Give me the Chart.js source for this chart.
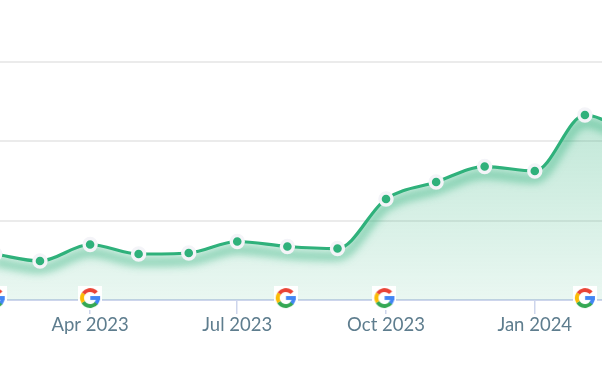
<!DOCTYPE html>
<html>
<head>
<meta charset="utf-8">
<style>
html, body { margin: 0; padding: 0; background: #fff; }
canvas { display: block; }
</style>
<script src="https://cdn.jsdelivr.net/npm/chart.js@4/dist/chart.umd.min.js"></script>
</head>
<body>
<canvas id="trafficChart" width="602" height="380"></canvas>
<script>
// days counted from 1 Feb 2023, one entry per month start
const monthDays = [0, 28, 59, 89, 120, 150, 181, 212, 242, 273, 303, 334, 365, 394];
const traffic = [580, 492, 700, 580, 593, 738, 675, 649, 1274, 1488, 1683, 1627, 2333, 2081];
const gridValues = [0, 1000, 2000, 3000];
const tickDays = [59, 150, 242, 334];
const tickLabels = ['Apr 2023', 'Jul 2023', 'Oct 2023', 'Jan 2024'];
const googleUpdateDays = [0, 59, 180, 241, 365];

const GREEN = '#2fb17b';
const points = traffic.map((v, i) => ({ x: monthDays[i], y: v }));
// badges sit just above the axis line
const updatePoints = googleUpdateDays.map(d => ({ x: d, y: 25 }));

// google "G" badge, used as the pointStyle of the update markers
function googleIcon() {
    const c = document.createElement('canvas');
    c.width = 24; c.height = 24;
    const g = c.getContext('2d');
    g.fillStyle = '#fff';
    g.fillRect(0, 0, 24, 24);
    g.lineWidth = 3.9;
    const arc = (color, from, to) => {
        g.strokeStyle = color;
        g.beginPath();
        g.arc(12, 12, 8, from * Math.PI / 180, to * Math.PI / 180);
        g.stroke();
    };
    arc('#34a853', 35, 150);
    arc('#fbbc05', 150, 215);
    arc('#ea4335', 215, 320);
    arc('#4285f4', 0, 40);
    g.fillStyle = '#4285f4';
    g.fillRect(12.2, 10, 9.8, 3.9);
    return c;
}

// soft band under the line, only inside the area.
// the stroke itself is moved off the canvas so only its shadow shows
const glowPlugin = {
    id: 'glow',
    beforeDatasetDraw(chart, args) {
        if (args.index !== 1) return;
        const ctx = chart.ctx;
        const line = args.meta.dataset;
        const pts = args.meta.data;
        ctx.save();
        ctx.beginPath();
        line.path(ctx);
        ctx.lineTo(pts[pts.length - 1].x, chart.chartArea.bottom);
        ctx.lineTo(pts[0].x, chart.chartArea.bottom);
        ctx.closePath();
        ctx.clip();
        ctx.shadowColor = 'rgba(47,177,123,0.6)';
        ctx.shadowBlur = 9;
        ctx.shadowOffsetY = 1008;
        ctx.translate(0, -1000);
    },
    afterDatasetDraw(chart, args) {
        if (args.index === 1) chart.ctx.restore();
    }
};

new Chart(document.getElementById('trafficChart'), {
    type: 'line',
    data: {
        datasets: [
            {
                data: updatePoints, showLine: false, order: 0, clip: false,
                pointStyle: googleIcon(), pointRadius: 12, pointHoverRadius: 12
            },
            {
                data: points, order: 2, borderColor: GREEN, borderWidth: 7, pointRadius: 0, clip: false,
                cubicInterpolationMode: 'monotone', fill: false
            },
            {
                data: points, order: 1, borderColor: GREEN, borderWidth: 3.2,
                cubicInterpolationMode: 'monotone', fill: false,
                pointRadius: 6, pointBorderWidth: 3.4,
                pointBackgroundColor: GREEN, pointBorderColor: '#f4f4f8'
            },
            {
                data: points, order: 3, borderWidth: 0, pointRadius: 0,
                cubicInterpolationMode: 'monotone', fill: 'origin',
                backgroundColor(context) {
                    const { chart } = context;
                    if (!chart.chartArea) return 'rgba(47,177,123,0.2)';
                    const yScale = chart.scales.y;
                    const grad = chart.ctx.createLinearGradient(0, yScale.getPixelForValue(Math.max(...traffic)), 0, chart.chartArea.bottom);
                    grad.addColorStop(0, 'rgba(47,177,123,0.3)');
                    grad.addColorStop(1, 'rgba(47,177,123,0.1)');
                    return grad;
                }
            }
        ]
    },
    options: {
        responsive: false,
        animation: false,
        layout: { padding: 0, autoPadding: false },
        plugins: { legend: { display: false }, tooltip: { enabled: false } },
        scales: {
            x: {
                type: 'linear',
                min: 3.28,
                max: 375.57,
                afterBuildTicks(scale) {
                    scale.ticks = tickDays.map(d => ({ value: d }));
                },
                afterFit(scale) { scale.height = 80; },
                grid: { drawOnChartArea: false, drawTicks: true, tickLength: 14, color: '#cdd5ec', lineWidth: 1.5 },
                border: { color: '#cdd5ec', width: 2 },
                ticks: {
                    autoSkip: false,
                    maxRotation: 0,
                    padding: 0,
                    color: '#5e7d8e',
                    font: { family: 'Lato', size: 18.5 },
                    callback: value => tickLabels[tickDays.indexOf(value)]
                }
            },
            y: {
                min: 0,
                max: 3783,
                afterBuildTicks(scale) {
                    scale.ticks = gridValues.map(v => ({ value: v }));
                },
                afterFit(scale) { scale.width = 0; },
                grid: {
                    drawTicks: false,
                    color: ctx => ctx.tick.value === 0 ? 'rgba(0,0,0,0)' : '#ebebeb',
                    lineWidth: 2
                },
                border: { display: false },
                ticks: { display: false }
            }
        }
    },
    plugins: [glowPlugin]
});
</script>
</body>
</html>
